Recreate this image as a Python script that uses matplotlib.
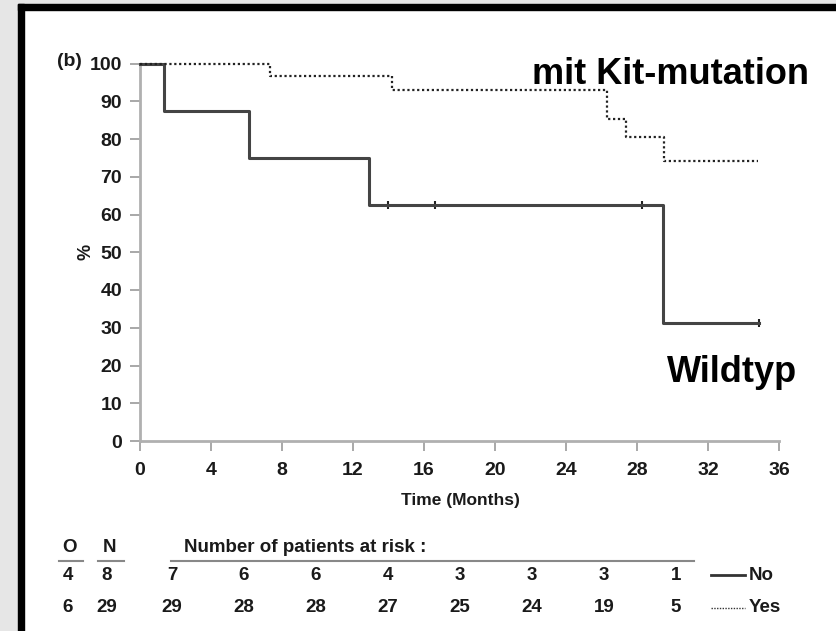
import matplotlib.pyplot as plt
from matplotlib.patches import Rectangle

W, H = 837, 631

# survival curves (months, %)
wild_t = [0, 1.35, 6.15, 12.9, 29.45, 34.9]
wild_s = [100, 87.5, 75, 62.5, 31.25, 31.25]
wild_cens_t = [14.0, 16.6, 28.3, 34.9]
wild_cens_s = [62.5, 62.5, 62.5, 31.25]

kit_t = [0, 7.3, 14.2, 26.3, 27.4, 29.5, 34.8]
kit_s = [100, 96.6, 93.1, 85.3, 80.6, 74.2, 74.2]

xticks = [0, 4, 8, 12, 16, 20, 24, 28, 32, 36]
yticks = [0, 10, 20, 30, 40, 50, 60, 70, 80, 90, 100]

# risk table
obs = [4, 6]
n_tot = [8, 29]
risk_no = [7, 6, 6, 4, 3, 3, 3, 1]
risk_yes = [29, 28, 28, 27, 25, 24, 19, 5]
groups = ['No', 'Yes']

plt.rcParams['font.family'] = ['Liberation Sans', 'DejaVu Sans']

def fx(x):
    return x / W

def fy(y):
    return 1 - y / H

fig = plt.figure(figsize=(W / 100, H / 100), dpi=100)
fig.patch.set_facecolor('white')

# frame look of the slide
fig.add_artist(Rectangle((0, 0), fx(18), 1, transform=fig.transFigure, color='#e6e6e6', zorder=0))
fig.add_artist(Rectangle((0, fy(4)), 1, 4 / H, transform=fig.transFigure, color='#e6e6e6', zorder=0))
fig.add_artist(Rectangle((fx(18), 0), fx(6), fy(4), transform=fig.transFigure, color='black', zorder=1))
fig.add_artist(Rectangle((fx(18), fy(10)), 1, 6 / H, transform=fig.transFigure, color='black', zorder=1))

ax = fig.add_axes([fx(140), fy(441), fx(779) - fx(140), fy(63.5) - fy(441)])
ax.plot(wild_t, wild_s, drawstyle='steps-post', color='#444444', lw=2.2, clip_on=False, zorder=3)
ax.plot(wild_cens_t, wild_cens_s, ls='none', marker='|', ms=6, mew=1.5, color='#222222', clip_on=False)
ax.plot(kit_t, kit_s, drawstyle='steps-post', color='#222222', lw=1.6, ls=(0, (1, 1.2)), clip_on=False, zorder=3)

ax.set_xlim(0, 36)
ax.set_ylim(0, 100)
ax.set_xticks(xticks)
ax.set_yticks(yticks)
for s in ['top', 'right']:
    ax.spines[s].set_visible(False)
for s in ['left', 'bottom']:
    ax.spines[s].set_color('#b0b0b0')
    ax.spines[s].set_linewidth(2)
ax.tick_params(colors='#999999', width=1.2, length=7, labelcolor='#1a1a1a')
ax.tick_params(axis='y', pad=6)
ax.tick_params(axis='x', pad=8)
for lab in ax.get_xticklabels() + ax.get_yticklabels():
    lab.set_fontsize(14)
    lab.set_fontweight('bold')

fig.text(fx(69), fy(62), '(b)', fontsize=14, fontweight='bold', ha='center', va='center', color='#1a1a1a')
fig.text(fx(86), fy(252), '%', fontsize=13, fontweight='bold', ha='center', va='center', rotation=90, color='#1a1a1a')
fig.text(fx(460), fy(501), 'Time (Months)', fontsize=12.5, fontweight='bold', ha='center', va='center', color='#1a1a1a')

fig.text(fx(670), fy(75), 'mit Kit-mutation', fontsize=26, fontweight='bold', ha='center', va='center')
fig.text(fx(732), fy(373), 'Wildtyp', fontsize=26, fontweight='bold', ha='center', va='center')

# risk table
narrow = ['Liberation Sans Narrow', 'Liberation Sans', 'DejaVu Sans']
tkw = dict(fontsize=13.5, fontweight='bold', ha='center', va='center', family=narrow, color='#1a1a1a')
fig.text(fx(70), fy(548), 'O', **tkw)
fig.text(fx(110), fy(548), 'N', **tkw)
fig.text(fx(184), fy(548), 'Number of patients at risk :', fontsize=13.5, fontweight='bold',
         ha='left', va='center', family=narrow, color='#1a1a1a')
for x0, x1 in [(59, 83), (98, 124), (171, 694)]:
    fig.add_artist(plt.Line2D([fx(x0), fx(x1)], [fy(561), fy(561)], transform=fig.transFigure, color='#888888', lw=1.5))

row_y = [575, 608]
cols = [172 + 72 * i for i in range(len(risk_no))]
for r, vals in enumerate([risk_no, risk_yes]):
    y = fy(row_y[r])
    fig.text(fx(68), y, str(obs[r]), **tkw)
    fig.text(fx(107), y, str(n_tot[r]), **tkw)
    for cx, v in zip(cols, vals):
        fig.text(fx(cx), y, str(v), **tkw)
    ls = '-' if r == 0 else (0, (1, 1))
    lw = 2 if r == 0 else 1
    fig.add_artist(plt.Line2D([fx(711), fx(745)], [y, y], transform=fig.transFigure, color='#333333', lw=lw, ls=ls))
    fig.text(fx(749), y, groups[r], fontsize=13.5, fontweight='bold', ha='left', va='center', family=narrow, color='#1a1a1a')

fig.savefig('out.png', dpi=100, facecolor=fig.get_facecolor())
